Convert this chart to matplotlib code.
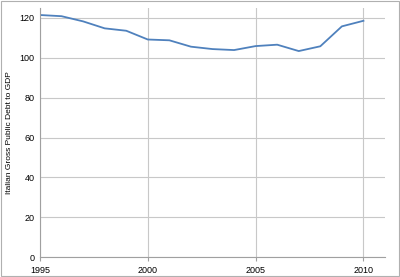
import numpy as np
import matplotlib.pyplot as plt

years = [1995, 1996, 1997, 1998, 1999, 2000, 2001, 2002,
         2003, 2004, 2005, 2006, 2007, 2008, 2009, 2010]
debt = [121.5, 120.9, 118.3, 114.8, 113.6, 109.2, 108.8, 105.6,
        104.4, 103.9, 105.9, 106.6, 103.4, 105.8, 115.8, 118.6]

plt.rcParams['font.family'] = ['Liberation Sans', 'DejaVu Sans']

fig = plt.figure(figsize=(4.0, 2.77), dpi=100)
ax = fig.add_axes([0.1, 0.072, 0.8625, 0.899])

ax.plot(years, debt, color="#4F81BD", lw=1.3)

ax.set_xlim(1995, 2011)
ax.set_ylim(0, 125)
ax.set_xticks([1995, 2000, 2005, 2010])
ax.set_yticks(np.arange(0, 121, 20))
ax.grid(True, color="#c8c8c8", lw=0.8)
ax.set_axisbelow(True)
for s in ("top", "right"):
    ax.spines[s].set_visible(False)
for s in ("left", "bottom"):
    ax.spines[s].set_color("#a0a0a0")
    ax.spines[s].set_linewidth(0.8)
ax.tick_params(labelsize=6.5, colors="#a0a0a0", labelcolor="black",
               length=3, width=0.8)
ax.tick_params(axis="y", length=0, pad=4)
ax.set_ylabel("Italian Gross Public Debt to GDP", fontsize=6,
              family=["Liberation Sans Narrow", "Liberation Sans", "DejaVu Sans"])
ax.yaxis.set_label_coords(-0.078, 0.5)

fig.patches.append(plt.Rectangle((0.002, 0.003), 0.995, 0.993, transform=fig.transFigure,
                                 fill=False, edgecolor="#b0b0b0", lw=0.8))

fig.savefig("out.png", dpi=100)
